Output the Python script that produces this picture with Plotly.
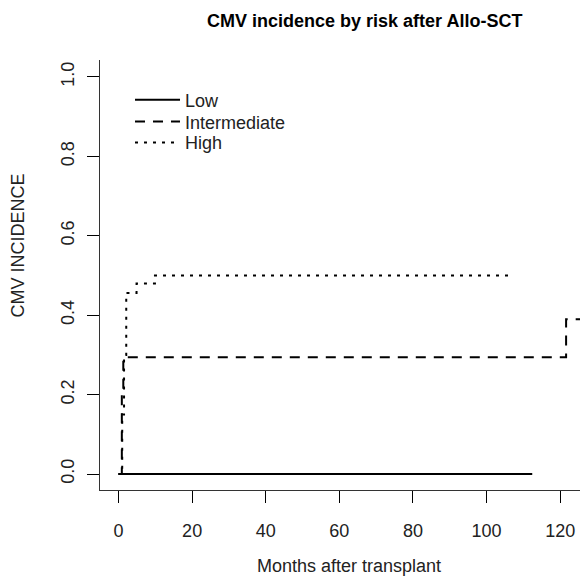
import plotly.graph_objects as go

# ---- data ----
low_t = [0, 112.4]
low_v = [0.0, 0.0]

inter_t = [0, 0.9, 1.3, 121.6, 125.5]
inter_v = [0.0, 0.2, 0.294, 0.39, 0.39]

high_t = [0, 1.0, 1.5, 2.1, 4.9, 9.9, 106.4]
high_v = [0.0, 0.15, 0.30, 0.456, 0.48, 0.50, 0.50]

x_ticks = [0, 20, 40, 60, 80, 100, 120]
y_ticks = [0.0, 0.2, 0.4, 0.6, 0.8, 1.0]
y_ticklabels = ["0.0", "0.2", "0.4", "0.6", "0.8", "1.0"]

FONT = "Liberation Sans, Arial, sans-serif"
TXT = "#222222"

fig = go.Figure()
fig.add_trace(go.Scatter(x=low_t, y=low_v, mode="lines", name="Low", legend="legend",
                         line=dict(color="black", width=2, shape="hv")))
fig.add_trace(go.Scatter(x=inter_t, y=inter_v, mode="lines", name="Intermediate",
                         legend="legend2",
                         line=dict(color="black", width=2, shape="hv", dash="10px,8px")))
fig.add_trace(go.Scatter(x=high_t, y=high_v, mode="lines", name="High", legend="legend3",
                         line=dict(color="black", width=2, shape="hv", dash="3px,6px")))

def leg(ypos):
    return dict(x=0.0615, y=ypos, xanchor="left", yanchor="middle",
                xref="paper", yref="paper",
                bgcolor="rgba(0,0,0,0)", borderwidth=0,
                font=dict(family=FONT, size=18, color=TXT),
                itemwidth=45)

# page body has an 8px margin, so the figure is 8px smaller and margins 8px less
fig.update_layout(
    width=580, height=571,
    margin=dict(l=92, r=0, t=52, b=89, autoexpand=False),
    paper_bgcolor="white", plot_bgcolor="white",
    font=dict(family=FONT, size=18, color=TXT),
    showlegend=True,
    legend=leg(0.907),
    legend2=leg(0.856),
    legend3=leg(0.8077),
    xaxis=dict(range=[-5.03, 127.55], tickvals=x_ticks, ticks="outside", ticklen=12,
               tickcolor="black", tickwidth=1, showline=True, linecolor="#333333",
               linewidth=1, showgrid=False, zeroline=False, mirror=False, automargin=False,
               tickfont=dict(family=FONT, size=18, color=TXT), ticklabelstandoff=12),
    yaxis=dict(range=[-0.0403, 1.0428], tickvals=y_ticks, ticktext=y_ticklabels,
               ticks="outside", ticklen=12, tickcolor="black", tickwidth=1,
               showline=True, linecolor="#333333", linewidth=1, showgrid=False,
               zeroline=False, mirror=False, tickangle=-90, automargin=False,
               tickfont=dict(family=FONT, size=18, color=TXT), ticklabelstandoff=6),
    annotations=[
        dict(text="<b>CMV incidence by risk after Allo-SCT</b>", xref="paper", yref="paper",
             x=0.543, y=1.0, yshift=39, xanchor="center", yanchor="middle",
             showarrow=False, font=dict(family=FONT, size=18, color="black")),
        dict(text="Months after transplant", xref="paper", yref="paper",
             x=0.510, y=0, yshift=-64, xanchor="center", yanchor="top",
             showarrow=False, font=dict(family=FONT, size=18, color=TXT)),
        dict(text="CMV INCIDENCE", xref="paper", yref="paper",
             x=0, xshift=-82, y=0.5686, xanchor="center", yanchor="middle",
             textangle=-90, showarrow=False, font=dict(family=FONT, size=18, color=TXT)),
    ],
)

fig.write_html("out.html")
